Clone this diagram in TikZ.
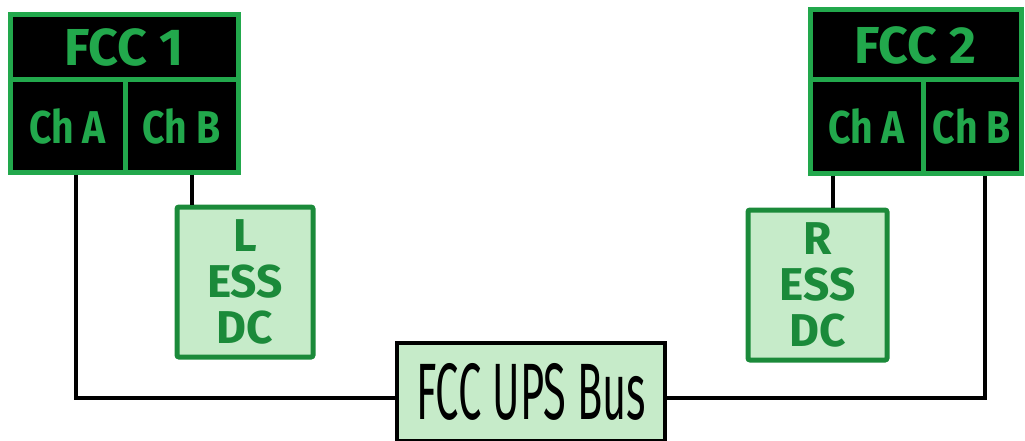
\documentclass[tikz,border=0pt]{standalone}
\usepackage{fontspec}
\usepackage{graphicx}
\setmainfont{Fira Sans}
\definecolor{brightgreen}{HTML}{22A84C}
\definecolor{darkgreen}{HTML}{1B8A3A}
\definecolor{lightgreen}{HTML}{C6EBC9}
\begin{document}
\begin{tikzpicture}[x=1pt,y=-1pt,
  cell/.style={draw=brightgreen, fill=black, line width=5pt, inner sep=0pt, text=brightgreen, font=\bfseries\fontsize{46}{46}\selectfont},
  titlecell/.style={cell, font=\bfseries\fontsize{52}{52}\selectfont},
  essbox/.style={draw=darkgreen, fill=lightgreen, line width=5pt, rounded corners=2pt, inner sep=0pt, text=darkgreen, align=center, font=\bfseries\fontsize{46}{46}\selectfont},
  busbox/.style={draw=black, fill=lightgreen, line width=4pt, inner sep=0pt},
  wire/.style={draw=black, line width=4pt}
]
\useasboundingbox (0,0) rectangle (1025,441);
% FCC 1
\node[titlecell, minimum width=228, minimum height=65] (f1t) at (124,47.5) {FCC 1};
\node[cell, minimum width=115, minimum height=92] (f1a) at (67.5,126) {\scalebox{0.85}[1]{Ch A}};
\node[cell, minimum width=113, minimum height=92] (f1b) at (181.5,126) {\scalebox{0.85}[1]{Ch B}};
% FCC 2
\node[titlecell, minimum width=211, minimum height=70] (f2t) at (915.5,45) {FCC 2};
\node[cell, minimum width=113, minimum height=93] (f2a) at (866.5,126.5) {\scalebox{0.85}[1]{Ch A}};
\node[cell, minimum width=98, minimum height=93] (f2b) at (972,126.5) {\scalebox{0.85}[1]{Ch B}};
% ESS boxes
\node[essbox, minimum width=136, minimum height=150] (lb) at (245,282) {L\\ESS\\DC};
\node[essbox, minimum width=139, minimum height=150] (rb) at (817.5,285) {R\\ESS\\DC};
% Bus
\node[busbox, minimum width=268, minimum height=98] (bus) at (531,392) {\scalebox{0.52}[1]{\fontsize{80}{80}\selectfont FCC UPS Bus}};
% wires
\draw[wire] ([xshift=8.5]f1a.south) |- ([yshift=-6]bus.west);
\draw[wire] ([xshift=13]f2b.south) |- ([yshift=-6]bus.east);
\draw[wire] ([xshift=10.5]f1b.south) -- ([xshift=10.5]f1b.south |- lb.north);
\draw[wire] ([xshift=-33.5]f2a.south) -- ([xshift=-33.5]f2a.south |- rb.north);
\end{tikzpicture}
\end{document}
